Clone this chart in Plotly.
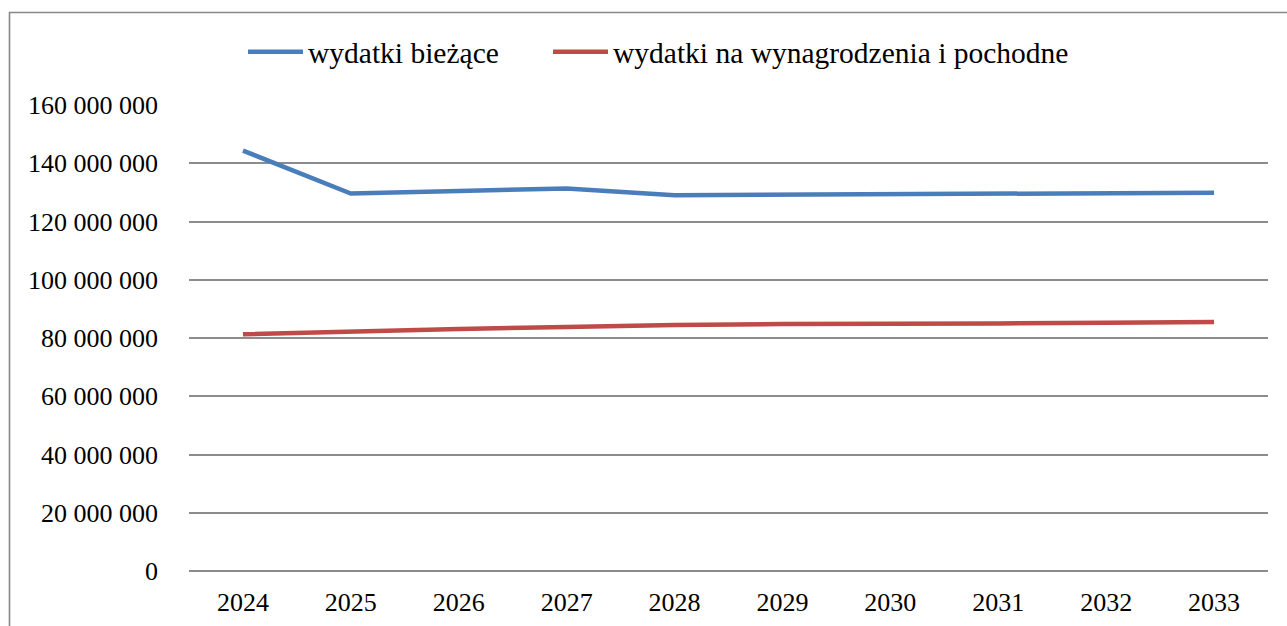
import plotly.graph_objects as go

years = ["2024", "2025", "2026", "2027", "2028", "2029", "2030", "2031", "2032", "2033"]
wydatki_biezace = [144.35e6, 129.6e6, 130.5e6, 131.3e6, 129.0e6, 129.2e6, 129.5e6, 129.5e6, 129.7e6, 129.9e6]
wydatki_wynagrodzenia = [81.25e6, 82.3e6, 83.1e6, 83.8e6, 84.5e6, 84.8e6, 84.8e6, 85.0e6, 85.2e6, 85.5e6]
y_ticks = [0, 20e6, 40e6, 60e6, 80e6, 100e6, 120e6, 140e6, 160e6]
y_tick_labels = ["0", "20 000 000", "40 000 000", "60 000 000", "80 000 000",
                 "100 000 000", "120 000 000", "140 000 000", "160 000 000"]

FONT = "Liberation Serif"
GRID = "#8c8c8c"

fig = go.Figure()
fig.add_trace(go.Scatter(x=years, y=wydatki_biezace, mode="lines", name="wydatki bieżące",
                         line=dict(color="#4a7ebb", width=4.5), legend="legend"))
fig.add_trace(go.Scatter(x=years, y=wydatki_wynagrodzenia, mode="lines",
                         name="wydatki na wynagrodzenia i pochodne",
                         line=dict(color="#be4b48", width=4.5), legend="legend2"))

W, H = 1287, 626
L, R, T, B = 189, 19, 105, 55
pw, ph = W - L - R, H - T - B

def px(xp):
    return (xp - L) / pw

def py(yp):
    return 1 - (yp - T) / ph

leg_common = dict(orientation="h", xanchor="left", y=py(52), yanchor="middle",
                  font=dict(family=FONT, size=29.5, color="black"),
                  bgcolor="rgba(0,0,0,0)", itemwidth=55, tracegroupgap=0)

fig.update_layout(
    width=W, height=H,
    margin=dict(l=L, r=R, t=T, b=B, pad=0, autoexpand=False),
    paper_bgcolor="white", plot_bgcolor="white",
    font=dict(family=FONT, size=26, color="black"),
    showlegend=True,
    legend=dict(x=px(243), **leg_common),
    legend2=dict(x=px(548), **leg_common),
    xaxis=dict(type="category", range=[-0.5, 9.5], showgrid=False, showline=False,
               zeroline=False, ticks="", ticklabelstandoff=13, automargin=False,
               tickfont=dict(family=FONT, size=26, color="black")),
    yaxis=dict(range=[0, 160e6], tickvals=y_ticks, ticktext=y_tick_labels,
               showgrid=True, gridcolor=GRID, gridwidth=1.6,
               zeroline=True, zerolinecolor=GRID, zerolinewidth=1.6,
               showline=False, ticks="", ticklabelstandoff=30, automargin=False,
               tickfont=dict(family=FONT, size=26, color="black")),
    shapes=[dict(type="rect", xref="paper", yref="paper",
                 x0=px(9.5), x1=px(1300), y0=py(640), y1=py(12.5),
                 line=dict(color="#878787", width=1.6), fillcolor="rgba(0,0,0,0)",
                 layer="below")],
)

fig.write_html("out.html", config={"displayModeBar": False},
               post_script="document.body.style.margin='0';document.body.style.padding='0';")
